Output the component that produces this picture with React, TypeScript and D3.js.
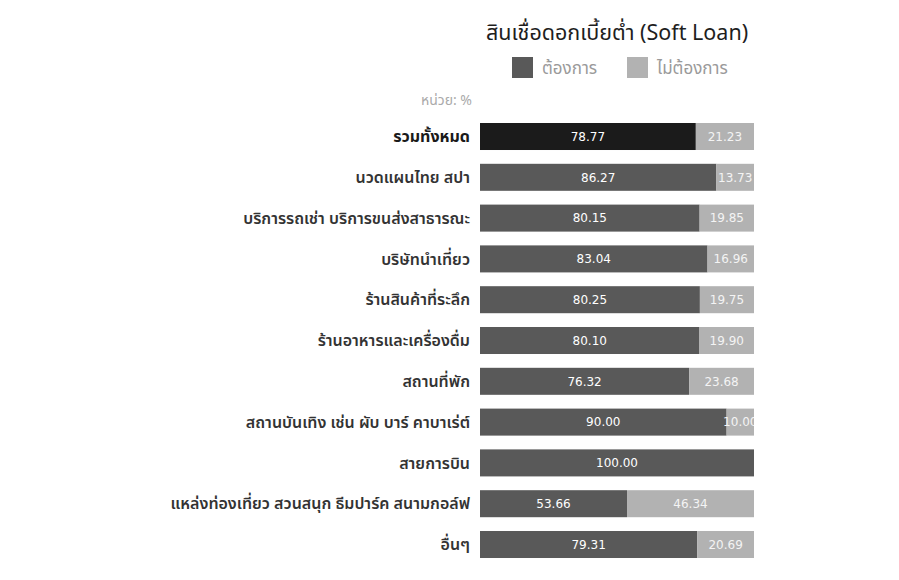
import * as d3 from "d3";

const categories = [
  "รวมทั้งหมด",
  "นวดแผนไทย สปา",
  "บริการรถเช่า บริการขนส่งสาธารณะ",
  "บริษัทนำเที่ยว",
  "ร้านสินค้าที่ระลึก",
  "ร้านอาหารและเครื่องดื่ม",
  "สถานที่พัก",
  "สถานบันเทิง เช่น ผับ บาร์ คาบาเร่ต์",
  "สายการบิน",
  "แหล่งท่องเที่ยว สวนสนุก ธีมปาร์ค สนามกอล์ฟ",
  "อื่นๆ",
];
const want = [78.77, 86.27, 80.15, 83.04, 80.25, 80.1, 76.32, 90.0, 100.0, 53.66, 79.31];
const notWant = [21.23, 13.73, 19.85, 16.96, 19.75, 19.9, 23.68, 10.0, 0, 46.34, 20.69];
const seriesNames = ["ต้องการ", "ไม่ต้องการ"];

const W = 899;
const H = 580;
const DARK = "#595959";
const TOTAL_DARK = "#1b1b1b";
const LIGHT = "#b2b2b2";
const THAI = "Tahoma, 'Noto Sans Thai', 'Loma', 'Garuda', 'Noto Sans', sans-serif";
const NUM = "'DejaVu Sans', Tahoma, sans-serif";

export default function App() {
  const x = d3.scaleLinear().domain([0, 100]).range([480, 754]);
  const step = 40.8;
  const pad = 0.338;
  const r0 = 123 - step * (pad / 2);
  const y = d3
    .scaleBand<string>()
    .domain(categories)
    .range([r0, r0 + step * categories.length])
    .paddingInner(pad)
    .paddingOuter(pad / 2);
  const bh = y.bandwidth();

  // legend items: swatch x, text x
  const legend = [
    { name: seriesNames[0], sx: 512, tx: 542, fill: DARK },
    { name: seriesNames[1], sx: 627, tx: 657, fill: LIGHT },
  ];

  return (
    <svg
      width={W}
      height={H}
      style={{ position: "absolute", left: 0, top: 0, background: "#fff" }}
    >
      <defs>
        <clipPath id="plot">
          <rect x={x(0)} y={0} width={x(100) - x(0)} height={H} />
        </clipPath>
      </defs>

      {/* title */}
      <text x={486} y={40} fontFamily={THAI} fontSize={21.5} fill="#1e1e1e">
        สินเชื่อดอกเบี้ยต่ำ (Soft Loan)
      </text>

      {/* legend */}
      {legend.map((l) => (
        <g key={l.name}>
          <rect x={l.sx} y={57} width={21} height={21} fill={l.fill} />
          <text x={l.tx} y={74} fontFamily={THAI} fontSize={17} fill="#9a9a9a">
            {l.name}
          </text>
        </g>
      ))}

      {/* unit */}
      <text
        x={472}
        y={105}
        textAnchor="end"
        fontFamily={THAI}
        fontSize={14}
        fill="#aaaaaa"
      >
        หน่วย: %
      </text>

      {/* category labels */}
      {categories.map((c, i) => (
        <text
          key={c}
          x={470}
          y={(y(c) ?? 0) + bh / 2}
          dy="0.35em"
          textAnchor="end"
          fontFamily={THAI}
          fontSize={16}
          fontWeight={i === 0 ? 700 : 600}
          fill={i === 0 ? "#1a1a1a" : "#333"}
        >
          {c}
        </text>
      ))}

      {/* bars */}
      <g clipPath="url(#plot)">
        {categories.map((c, i) => {
          const yy = y(c) ?? 0;
          const a = want[i];
          const b = notWant[i];
          return (
            <g key={c}>
              <rect
                x={x(0)}
                y={yy}
                width={x(a) - x(0)}
                height={bh}
                fill={i === 0 ? TOTAL_DARK : DARK}
              />
              {b > 0 && (
                <rect
                  x={x(a)}
                  y={yy}
                  width={x(a + b) - x(a)}
                  height={bh}
                  fill={LIGHT}
                />
              )}
              <text
                x={(x(0) + x(a)) / 2}
                y={yy + bh / 2}
                dy="0.36em"
                textAnchor="middle"
                fontFamily={NUM}
                fontSize={12}
                fill="#fff"
              >
                {a.toFixed(2)}
              </text>
              {b > 0 && (
                <text
                  x={(x(a) + x(a + b)) / 2}
                  y={yy + bh / 2}
                  dy="0.36em"
                  textAnchor="middle"
                  fontFamily={NUM}
                  fontSize={12}
                  fill="#f4f4f4"
                >
                  {b.toFixed(2)}
                </text>
              )}
            </g>
          );
        })}
      </g>
    </svg>
  );
}
